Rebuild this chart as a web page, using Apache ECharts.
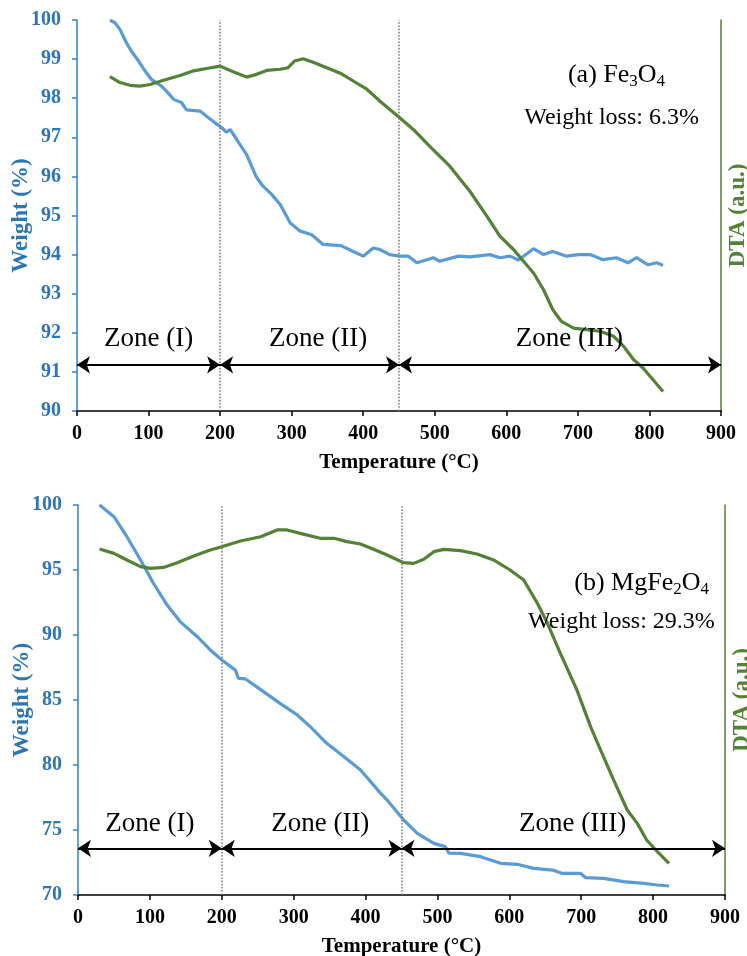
<!DOCTYPE html>
<html>
<head>
<meta charset="utf-8">
<title>TGA / DTA</title>
<script src="https://cdn.jsdelivr.net/npm/echarts@6/dist/echarts.min.js"></script>
<style>
  html, body { margin: 0; padding: 0; background: #fff; }
  #chart { width: 747px; height: 956px; }
</style>
</head>
<body>
<div id="chart"></div>
<script>
// (a) Fe3O4 - weight curve
const tempA_w = [46, 53, 60, 69, 76, 86, 95, 104, 118, 125, 135, 146, 153, 172, 181, 196, 202, 209, 214, 223,
  237, 251, 260, 272, 284, 298, 312, 328, 344, 369, 386, 400, 414, 423, 437, 451, 463, 475, 498, 507,
  533, 549, 577, 591, 605, 617, 638, 652, 665, 684, 701, 717, 735, 754, 770, 782, 798, 810, 819]
const weightA = [100, 99.93, 99.76, 99.42, 99.2, 98.95, 98.7, 98.48, 98.31, 98.18, 97.97, 97.89, 97.7, 97.67, 97.54, 97.33, 97.25, 97.13, 97.2, 96.95,
  96.56, 95.97, 95.75, 95.54, 95.28, 94.81, 94.6, 94.51, 94.26, 94.23, 94.08, 93.96, 94.17, 94.13, 94.0, 93.96, 93.96, 93.79, 93.92, 93.83,
  93.96, 93.94, 94.0, 93.92, 93.96, 93.86, 94.15, 94.0, 94.08, 93.96, 94.0, 94.0, 93.87, 93.92, 93.79, 93.92, 93.74, 93.79, 93.73]

// (a) Fe3O4 - DTA curve (a.u., drawn on the same scale as the weight axis)
const tempA_d = [46, 60, 74, 88, 102, 121, 144, 163, 181, 200, 219, 237, 251, 265, 284, 295, 304, 316, 330, 349,
  368, 386, 405, 423, 451, 470, 493, 521, 549, 573, 591, 610, 624, 638, 652, 665, 677, 694, 712, 731,
  750, 764, 778, 791, 805, 819]
const dtaA = [98.55, 98.4, 98.33, 98.31, 98.35, 98.46, 98.58, 98.7, 98.76, 98.82, 98.67, 98.54, 98.61, 98.71, 98.74, 98.78, 98.95, 99.01, 98.92, 98.78,
  98.64, 98.44, 98.23, 97.93, 97.5, 97.2, 96.77, 96.26, 95.62, 94.98, 94.47, 94.13, 93.83, 93.53, 93.1, 92.59, 92.29, 92.12, 92.08, 92.04,
  91.91, 91.65, 91.31, 91.1, 90.8, 90.5]

// (b) MgFe2O4 - weight curve
const tempB_w = [30, 50, 68, 87, 105, 124, 142, 166, 184, 200, 219, 223, 233, 258, 281, 305, 323, 346, 370, 393,
  407, 421, 430, 453, 472, 495, 511, 516, 532, 560, 588, 611, 634, 660, 673, 699, 706, 731, 759, 787, 806, 822]
const weightB = [100, 99.1, 97.56, 95.77, 93.97, 92.3, 91.03, 89.87, 88.85, 88.08, 87.3, 86.67, 86.62, 85.64, 84.74, 83.85, 82.95, 81.67, 80.64, 79.62,
  78.72, 77.82, 77.3, 75.77, 74.74, 73.97, 73.72, 73.21, 73.2, 72.95, 72.44, 72.36, 72.05, 71.92, 71.67, 71.67, 71.33, 71.28, 71.03, 70.9, 70.77, 70.69]

// (b) MgFe2O4 - DTA curve
const tempB_d = [30, 50, 68, 87, 101, 119, 138, 161, 184, 200, 226, 254, 277, 291, 309, 337, 356, 374, 393, 411,
  430, 453, 467, 481, 495, 509, 532, 555, 578, 601, 620, 639, 653, 671, 694, 713, 727, 745, 764, 778, 791, 806, 822]
const dtaB = [96.62, 96.28, 95.77, 95.26, 95.13, 95.2, 95.56, 96.08, 96.54, 96.79, 97.23, 97.56, 98.08, 98.08, 97.82, 97.44, 97.44, 97.18, 97.0, 96.6,
  96.15, 95.56, 95.51, 95.82, 96.41, 96.59, 96.49, 96.23, 95.77, 95.0, 94.23, 92.44, 90.9, 88.59, 85.77, 82.95, 81.15, 78.85, 76.54, 75.51, 74.23, 73.33, 72.44]

// zones and axis ticks
const zoneBounds = [0, 200, 450, 900]
const zoneNames = ['Zone (I)', 'Zone (II)', 'Zone (III)']
const xTicks = [0, 100, 200, 300, 400, 500, 600, 700, 800, 900]
const yRangeA = [90, 100, 1]
const yRangeB = [70, 100, 5]

const FONT = '"Liberation Serif", "Times New Roman", serif'
const BLUE = '#5B9BD5'
const BLUE_TXT = '#2E75B6'
const GREEN = '#548235'

const toPairs = (xs, ys) => xs.map((x, i) => [x, ys[i]])

const makeXAxis = (gridIndex) => ({
  gridIndex,
  type: 'value',
  min: xTicks[0],
  max: xTicks[xTicks.length - 1],
  interval: xTicks[1] - xTicks[0],
  splitLine: { show: false },
  axisLine: { lineStyle: { color: '#000', width: 1.5 } },
  axisTick: { show: true, inside: false, length: 5, lineStyle: { color: '#000', width: 1.5 } },
  axisLabel: { color: '#000', fontFamily: FONT, fontWeight: 'bold', fontSize: 20, margin: 13 },
  name: 'Temperature (°C)',
  nameLocation: 'middle',
  nameGap: 41,
  nameMoveOverlap: false,
  nameTextStyle: { color: '#000', fontFamily: FONT, fontWeight: 'bold', fontSize: 21 },
})

const makeYAxis = (gridIndex, range) => ({
  gridIndex,
  type: 'value',
  min: range[0],
  max: range[1],
  interval: range[2],
  splitLine: { show: false },
  axisLine: { show: true, lineStyle: { color: '#2F82CF', width: 1.5 } },
  axisTick: { show: true, inside: false, length: 5, lineStyle: { color: '#2F82CF', width: 1.5 } },
  axisLabel: { color: BLUE_TXT, fontFamily: FONT, fontWeight: 'bold', fontSize: 20, margin: 16 },
  name: 'Weight (%)',
  nameLocation: 'middle',
  nameRotate: 90,
  nameGap: 44,
  nameMoveOverlap: false,
  nameTextStyle: { color: BLUE_TXT, fontFamily: FONT, fontWeight: 'bold', fontSize: 23 },
})

const makeDtaAxis = (gridIndex, range) => ({
  gridIndex,
  type: 'value',
  position: 'right',
  min: range[0],
  max: range[1],
  splitLine: { show: false },
  axisLine: { show: true, lineStyle: { color: GREEN, width: 1.5 } },
  axisTick: { show: false },
  axisLabel: { show: false },
  name: 'DTA (a.u.)',
  nameLocation: 'middle',
  nameRotate: 90,
  nameGap: 6,
  nameMoveOverlap: false,
  nameTextStyle: { color: GREEN, fontFamily: FONT, fontWeight: 'bold', fontSize: 23, verticalAlign: 'top' },
})

// zone arrows + dotted separators drawn as markLines of the weight series
const zoneMarkLine = (arrowY) => ({
  silent: true,
  animation: false,
  symbol: ['none', 'none'],
  label: { show: false },
  data: [
    ...zoneBounds.slice(1, 3).map(x => ({
      xAxis: x,
      lineStyle: { type: 'dotted', color: '#808080', width: 1.6 },
    })),
    ...zoneNames.map((_, i) => [
      { coord: [zoneBounds[i], arrowY], symbol: 'arrow', symbolSize: 13,
        lineStyle: { type: 'solid', color: '#000', width: 2 } },
      { coord: [zoneBounds[i + 1], arrowY], symbol: 'arrow', symbolSize: 13 },
    ]),
  ],
})

const textPoint = (coord, text, size, rich) => ({
  coord,
  symbolSize: 0,
  label: {
    show: true,
    position: 'inside',
    formatter: text,
    color: '#000',
    fontFamily: FONT,
    fontSize: size,
    lineHeight: 30,
    rich: rich || {},
  },
})

const subRich = {
  sub: { fontFamily: FONT, fontSize: 17, lineHeight: 16, verticalAlign: 'bottom', color: '#000' },
}

const zoneLabelX = [100, 337, 688]

const option = {
  animation: false,
  backgroundColor: '#fff',
  grid: [
    { left: 77, right: 26, top: 20, height: 391, outerBoundsMode: 'none' },
    { left: 78, right: 22, top: 505, height: 390, outerBoundsMode: 'none' },
  ],
  xAxis: [makeXAxis(0), makeXAxis(1)],
  yAxis: [
    makeYAxis(0, yRangeA),
    makeDtaAxis(0, yRangeA),
    makeYAxis(1, yRangeB),
    makeDtaAxis(1, yRangeB),
  ],
  series: [
    {
      name: 'Weight Fe3O4',
      type: 'line',
      xAxisIndex: 0,
      yAxisIndex: 0,
      data: toPairs(tempA_w, weightA),
      showSymbol: false,
      lineStyle: { color: BLUE, width: 3.2 },
      itemStyle: { color: BLUE },
      markLine: zoneMarkLine(91.18),
      markPoint: {
        silent: true,
        symbol: 'circle',
        data: [
          ...zoneNames.map((z, i) => textPoint([zoneLabelX[i], 91.85], z, 27)),
          textPoint([754, 98.6], '(a) Fe{sub|3}O{sub|4}', 26, subRich),
          textPoint([747, 97.5], 'Weight loss: 6.3%', 24),
        ],
      },
    },
    {
      name: 'DTA Fe3O4',
      type: 'line',
      xAxisIndex: 0,
      yAxisIndex: 1,
      data: toPairs(tempA_d, dtaA),
      showSymbol: false,
      lineStyle: { color: GREEN, width: 3.2 },
      itemStyle: { color: GREEN },
    },
    {
      name: 'Weight MgFe2O4',
      type: 'line',
      xAxisIndex: 1,
      yAxisIndex: 2,
      data: toPairs(tempB_w, weightB),
      showSymbol: false,
      lineStyle: { color: BLUE, width: 3.2 },
      itemStyle: { color: BLUE },
      markLine: zoneMarkLine(73.59),
      markPoint: {
        silent: true,
        symbol: 'circle',
        data: [
          ...zoneNames.map((z, i) => textPoint([zoneLabelX[i], 75.5], z, 27)),
          textPoint([784, 94.0], '(b) MgFe{sub|2}O{sub|4}', 26, subRich),
          textPoint([756, 91.0], 'Weight loss: 29.3%', 24),
        ],
      },
    },
    {
      name: 'DTA MgFe2O4',
      type: 'line',
      xAxisIndex: 1,
      yAxisIndex: 3,
      data: toPairs(tempB_d, dtaB),
      showSymbol: false,
      lineStyle: { color: GREEN, width: 3.2 },
      itemStyle: { color: GREEN },
    },
  ],
}

const chart = echarts.init(document.getElementById('chart'), null, { renderer: 'canvas' })
chart.setOption(option)
window.addEventListener('resize', () => chart.resize())
</script>
</body>
</html>
